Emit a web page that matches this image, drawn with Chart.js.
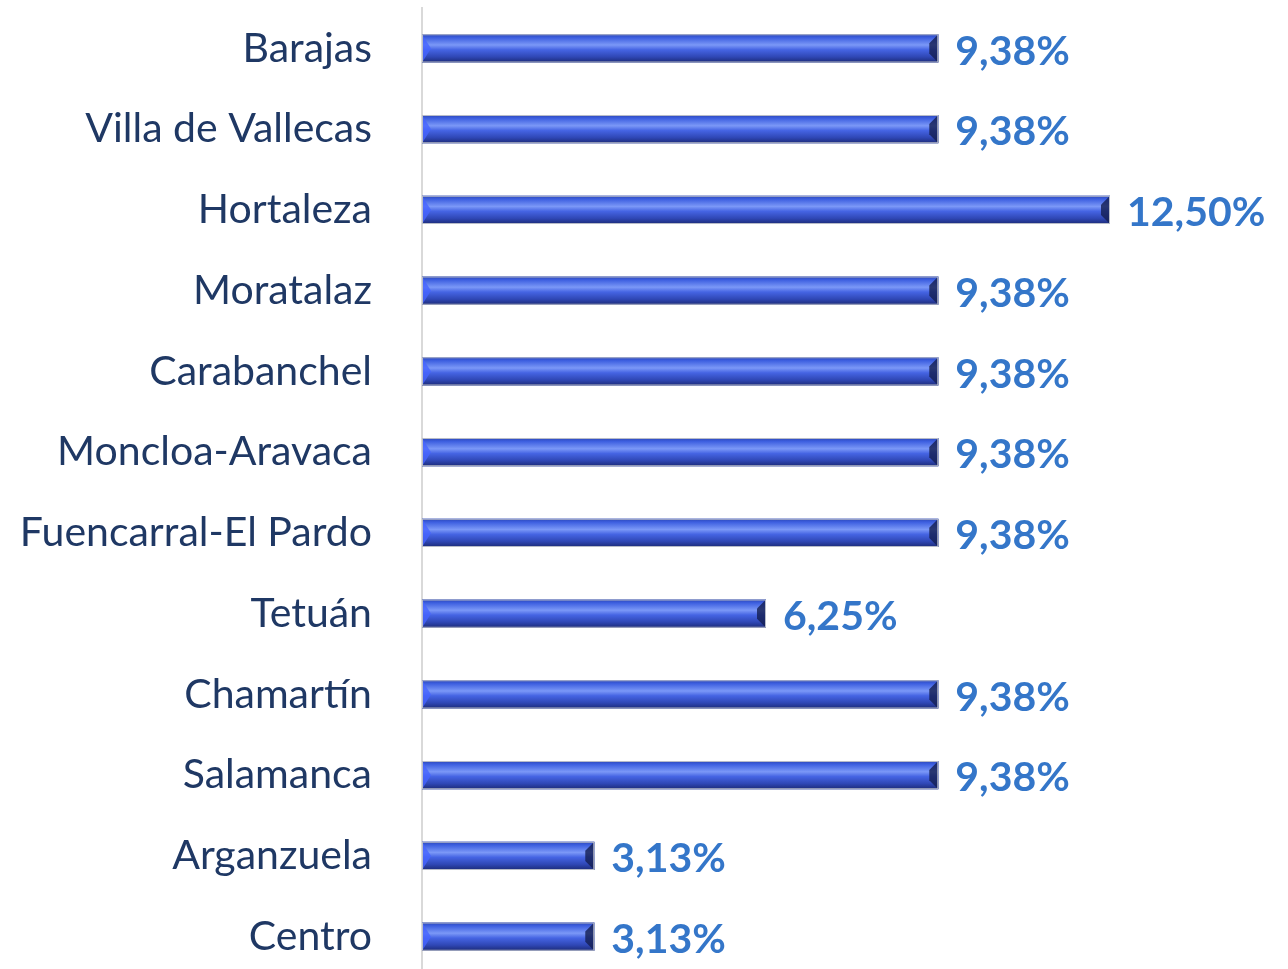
<!DOCTYPE html>
<html>
<head>
<meta charset="utf-8">
<script src="https://cdn.jsdelivr.net/npm/chart.js@4/dist/chart.umd.min.js"></script>
<style>
  html, body { margin: 0; padding: 0; background: #fff; overflow: hidden; }
  #wrap { width: 1288px; height: 977px; position: relative; }
</style>
</head>
<body>
<div id="wrap"><canvas id="chart"></canvas></div>
<script>
const distritos = [
  "Barajas", "Villa de Vallecas", "Hortaleza", "Moratalaz", "Carabanchel",
  "Moncloa-Aravaca", "Fuencarral-El Pardo", "Tetuán", "Chamartín",
  "Salamanca", "Arganzuela", "Centro"
];
const porcentajes = [9.38, 9.38, 12.5, 9.38, 9.38, 9.38, 9.38, 6.25, 9.38, 9.38, 3.13, 3.13];

const fmt = v => v.toFixed(2).replace(".", ",") + "%";

// relieve de la barra + etiqueta de valor
const biselPlugin = {
  id: "bisel",
  afterDatasetsDraw(chart) {
    const ctx = chart.ctx;
    const meta = chart.getDatasetMeta(0);
    meta.data.forEach((bar, i) => {
      const left = bar.base, right = bar.x;
      const top = bar.y - bar.height / 2, h = bar.height;
      const g = ctx.createLinearGradient(0, top, 0, top + h);
      g.addColorStop(0, "#2c47b8");
      g.addColorStop(0.12, "#3d5fe0");
      g.addColorStop(0.38, "#7b98f7");
      g.addColorStop(0.55, "#4564e3");
      g.addColorStop(0.8, "#2f47b5");
      g.addColorStop(1, "#1c2b78");
      ctx.save();
      ctx.fillStyle = g;
      ctx.fillRect(left, top, right - left, h);
      const b = 9;
      // extremo izquierdo claro
      ctx.fillStyle = "rgba(70,100,255,0.8)";
      ctx.beginPath();
      ctx.moveTo(left, top); ctx.lineTo(left + b, top + h / 2); ctx.lineTo(left, top + h);
      ctx.closePath(); ctx.fill();
      // extremo derecho oscuro
      ctx.fillStyle = "rgba(20,30,80,0.8)";
      ctx.beginPath();
      ctx.moveTo(right, top); ctx.lineTo(right - b, top + b); ctx.lineTo(right - b, top + h - b); ctx.lineTo(right, top + h);
      ctx.closePath(); ctx.fill();
      ctx.strokeStyle = "#b8bcc8";
      ctx.lineWidth = 1;
      ctx.strokeRect(left + 0.5, top + 0.5, right - left - 1, h - 1);
      // valor
      ctx.fillStyle = "#3476c9";
      ctx.font = "bold 41px Lato";
      ctx.textAlign = "left";
      ctx.textBaseline = "middle";
      ctx.fillText(fmt(porcentajes[i]), right + 17, bar.y + 3);
      ctx.restore();
    });
  }
};

new Chart(document.getElementById("chart"), {
  type: "bar",
  data: {
    labels: distritos,
    datasets: [{
      data: porcentajes,
      backgroundColor: "#3d5fe0",
      categoryPercentage: 1,
      barPercentage: 0.35
    }]
  },
  options: {
    indexAxis: "y",
    responsive: true,
    maintainAspectRatio: false,
    animation: false,
    layout: { padding: { top: 8, right: 178, bottom: 0, left: 0 } },
    plugins: { legend: { display: false }, tooltip: { enabled: false } },
    scales: {
      x: { display: false, min: 0, max: 12.5 },
      y: {
        afterFit: s => { s.width = 422; s.paddingTop = 0; s.paddingBottom = 0; },
        grid: { display: false, drawTicks: false },
        border: { display: true, color: "#d9d9d9", width: 2 },
        ticks: {
          padding: 50,
          color: "#1f3864",
          font: { family: "Lato", size: 41 }
        }
      }
    }
  },
  plugins: [biselPlugin]
});
</script>
</body>
</html>
